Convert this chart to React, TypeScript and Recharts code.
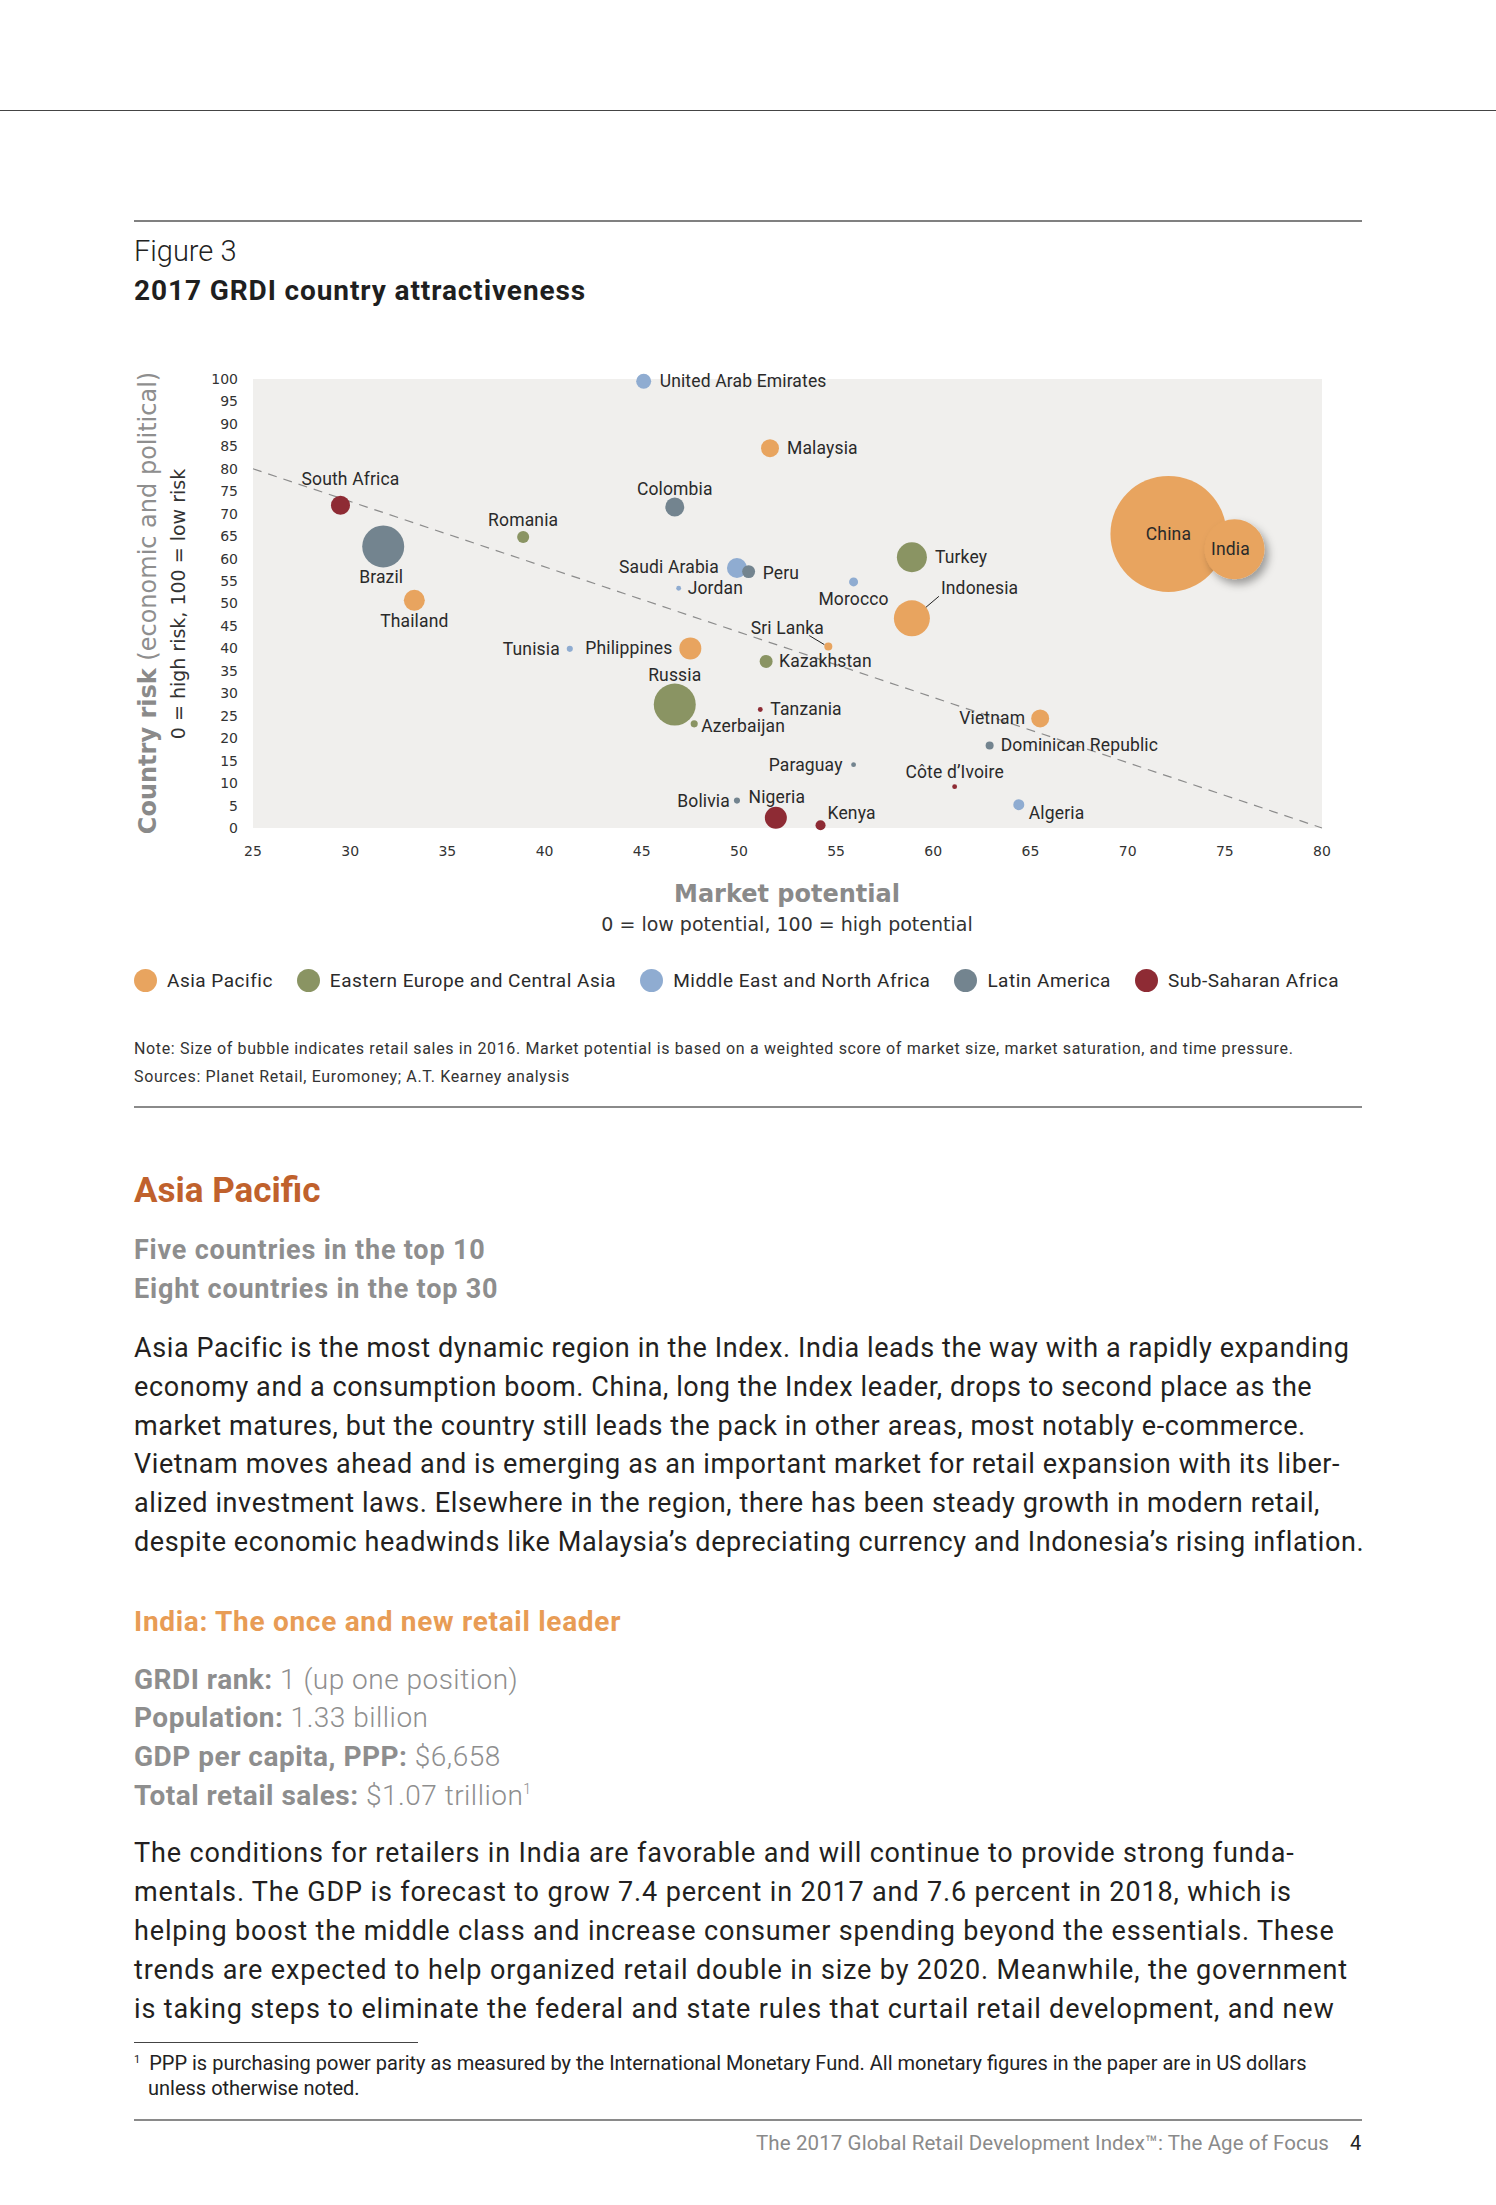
import React from 'react';
import { ScatterChart, Scatter, XAxis, YAxis, ZAxis, CartesianGrid, ReferenceLine } from 'recharts';

// ---------- DATA ----------
const regions = [
  'Asia Pacific',
  'Eastern Europe and Central Asia',
  'Middle East and North Africa',
  'Latin America',
  'Sub-Saharan Africa',
];
const regionColors = ['#E8A45F', '#8A9463', '#8FACD1', '#73848F', '#8E2B34'];

// x = market potential, y = country risk, z = retail sales 2016 (US$ billion)
const asiaPacific = [
  { name: 'China', x: 72.1, y: 65.5, z: 4000 },
  { name: 'India', x: 75.5, y: 62.1, z: 1070 },
  { name: 'Indonesia', x: 58.9, y: 46.7, z: 385 },
  { name: 'Philippines', x: 47.5, y: 40.0, z: 144 },
  { name: 'Thailand', x: 33.3, y: 50.7, z: 131 },
  { name: 'Malaysia', x: 51.6, y: 84.6, z: 96 },
  { name: 'Vietnam', x: 65.5, y: 24.4, z: 96 },
  { name: 'Sri Lanka', x: 54.6, y: 40.4, z: 19 },
];
const easternEurope = [
  { name: 'Russia', x: 46.7, y: 27.5, z: 524 },
  { name: 'Turkey', x: 58.9, y: 60.3, z: 268 },
  { name: 'Romania', x: 38.9, y: 64.8, z: 43 },
  { name: 'Kazakhstan', x: 51.4, y: 37.1, z: 50 },
  { name: 'Azerbaijan', x: 47.7, y: 23.2, z: 15 },
];
const middleEast = [
  { name: 'United Arab Emirates', x: 45.1, y: 99.5, z: 67 },
  { name: 'Saudi Arabia', x: 49.9, y: 57.9, z: 119 },
  { name: 'Jordan', x: 46.9, y: 53.4, z: 7 },
  { name: 'Morocco', x: 55.9, y: 54.8, z: 24 },
  { name: 'Tunisia', x: 41.3, y: 39.9, z: 11 },
  { name: 'Algeria', x: 64.4, y: 5.2, z: 36 },
];
const latinAmerica = [
  { name: 'Brazil', x: 31.7, y: 62.7, z: 524 },
  { name: 'Colombia', x: 46.7, y: 71.5, z: 107 },
  { name: 'Peru', x: 50.5, y: 57.1, z: 50 },
  { name: 'Dominican Republic', x: 62.9, y: 18.4, z: 19 },
  { name: 'Paraguay', x: 55.9, y: 14.1, z: 7 },
  { name: 'Bolivia', x: 49.9, y: 6.1, z: 11 },
];
const subSaharan = [
  { name: 'South Africa', x: 29.5, y: 71.9, z: 107 },
  { name: 'Nigeria', x: 51.9, y: 2.3, z: 144 },
  { name: 'Kenya', x: 54.2, y: 0.6, z: 30 },
  { name: 'Tanzania', x: 51.1, y: 26.4, z: 7 },
  { name: 'Côte d’Ivoire', x: 61.1, y: 9.2, z: 7 },
];
const seriesData = [asiaPacific, easternEurope, middleEast, latinAmerica, subSaharan];

const xTicks = [25, 30, 35, 40, 45, 50, 55, 60, 65, 70, 75, 80];
const yTicks = [0, 5, 10, 15, 20, 25, 30, 35, 40, 45, 50, 55, 60, 65, 70, 75, 80, 85, 90, 95, 100];
const trendLine = [{ x: 25, y: 80 }, { x: 80, y: 0 }];
const zDomain = [0, 4000];

// ---------- LABEL PLACEMENT (presentation) ----------
type Place = { dx: number; dy: number; anchor: 'start' | 'middle' | 'end'; leader?: number[] };
const labelPlacement: Record<string, Place> = {
  'United Arab Emirates': { dx: 16, dy: 0, anchor: 'start' },
  Malaysia: { dx: 17, dy: 0, anchor: 'start' },
  'South Africa': { dx: 10, dy: -26, anchor: 'middle' },
  Colombia: { dx: 0, dy: -18, anchor: 'middle' },
  Romania: { dx: 0, dy: -17, anchor: 'middle' },
  Brazil: { dx: -2, dy: 31, anchor: 'middle' },
  Thailand: { dx: 0, dy: 21, anchor: 'middle' },
  'Saudi Arabia': { dx: -18, dy: -1, anchor: 'end' },
  Peru: { dx: 14, dy: 1, anchor: 'start' },
  Jordan: { dx: 9, dy: 0, anchor: 'start' },
  Morocco: { dx: 0, dy: 17, anchor: 'middle' },
  Turkey: { dx: 23, dy: 0, anchor: 'start' },
  Indonesia: { dx: 29, dy: -30, anchor: 'start', leader: [14, -11, 27, -22] },
  China: { dx: 0, dy: 0, anchor: 'middle' },
  India: { dx: -4, dy: 0, anchor: 'middle' },
  'Sri Lanka': { dx: -41, dy: -19, anchor: 'middle', leader: [-19, -11, -4, -2] },
  Kazakhstan: { dx: 13, dy: 0, anchor: 'start' },
  Tunisia: { dx: -10, dy: 0, anchor: 'end' },
  Philippines: { dx: -18, dy: 0, anchor: 'end' },
  Russia: { dx: 0, dy: -30, anchor: 'middle' },
  Azerbaijan: { dx: 7, dy: 2, anchor: 'start' },
  Tanzania: { dx: 10, dy: 0, anchor: 'start' },
  Vietnam: { dx: -15, dy: 0, anchor: 'end' },
  'Dominican Republic': { dx: 11, dy: 0, anchor: 'start' },
  Paraguay: { dx: -11, dy: 0, anchor: 'end' },
  'Côte d’Ivoire': { dx: 0, dy: -15, anchor: 'middle' },
  Bolivia: { dx: -7, dy: 0, anchor: 'end' },
  Nigeria: { dx: 1, dy: -21, anchor: 'middle' },
  Kenya: { dx: 7, dy: -12, anchor: 'start' },
  Algeria: { dx: 10, dy: 8, anchor: 'start' },
};

const FONT = 'Roboto, "Liberation Sans", Arial, sans-serif';
const GEO = '"DejaVu Sans", Lato, sans-serif';

const makeShape = (color: string) => (props: any) => {
  const { cx, cy, payload } = props;
  if (cx == null || cy == null) return null;
  const r = props.width ? props.width / 2 : Math.sqrt((props.size || 64) / Math.PI);
  const p = labelPlacement[payload.name] || { dx: r + 6, dy: 0, anchor: 'start' };
  const shadow = payload.name === 'India';
  return (
    <g>
      {shadow && (
        <defs>
          <filter id="bubbleShadow" x="-50%" y="-50%" width="200%" height="200%">
            <feDropShadow dx="4" dy="5" stdDeviation="4" floodColor="#000" floodOpacity="0.35" />
          </filter>
        </defs>
      )}
      <circle cx={cx} cy={cy} r={r} fill={color} filter={shadow ? 'url(#bubbleShadow)' : undefined} />
      {p.leader && (
        <line
          x1={cx + p.leader[0]}
          y1={cy + p.leader[1]}
          x2={cx + p.leader[2]}
          y2={cy + p.leader[3]}
          stroke="#222"
          strokeWidth={1}
        />
      )}
      <text
        x={cx + p.dx}
        y={cy + p.dy}
        textAnchor={p.anchor}
        dominantBaseline="central"
        fontFamily={FONT}
        fontSize={17.5}
        letterSpacing={0.15}
        fill="#2a2a2a"
      >
        {payload.name}
      </text>
    </g>
  );
};

// ---------- LAYOUT HELPERS ----------
const Txt = ({ x, y, size, children, style, lh }: any) => {
  const lineH = lh || Math.round(size * 1.25);
  return (
    <div
      style={{
        position: 'absolute',
        left: x,
        top: y - lineH / 2,
        fontSize: size,
        lineHeight: `${lineH}px`,
        whiteSpace: 'nowrap',
        fontFamily: FONT,
        color: '#231f20',
        ...style,
      }}
    >
      {children}
    </div>
  );
};

const Rule = ({ x, y, w, h, color }: any) => (
  <div style={{ position: 'absolute', left: x, top: y - h / 2, width: w, height: h, background: color }} />
);

const para1 = [
  'Asia Pacific is the most dynamic region in the Index. India leads the way with a rapidly expanding',
  'economy and a consumption boom. China, long the Index leader, drops to second place as the',
  'market matures, but the country still leads the pack in other areas, most notably e-commerce.',
  'Vietnam moves ahead and is emerging as an important market for retail expansion with its liber-',
  'alized investment laws. Elsewhere in the region, there has been steady growth in modern retail,',
  'despite economic headwinds like Malaysia’s depreciating currency and Indonesia’s rising inflation.',
];
const para2 = [
  'The conditions for retailers in India are favorable and will continue to provide strong funda-',
  'mentals. The GDP is forecast to grow 7.4 percent in 2017 and 7.6 percent in 2018, which is',
  'helping boost the middle class and increase consumer spending beyond the essentials. These',
  'trends are expected to help organized retail double in size by 2020. Meanwhile, the government',
  'is taking steps to eliminate the federal and state rules that curtail retail development, and new',
];
const stats = [
  ['GRDI rank:', ' 1 (up one position)'],
  ['Population:', ' 1.33 billion'],
  ['GDP per capita, PPP:', ' $6,658'],
  ['Total retail sales:', ' $1.07 trillion'],
];

export default function App() {
  return (
    <div
      style={{
        position: 'absolute',
        left: 0,
        top: 0,
        width: 1496,
        height: 2205,
        background: '#fff',
        overflow: 'hidden',
        fontFamily: FONT,
      }}
    >
      <Rule x={0} y={110} w={1496} h={1} color="#444" />
      <Rule x={134} y={221} w={1228} h={2} color="#808080" />
      <Txt x={134} y={251} size={29} style={{ fontWeight: 300, color: '#222' }}>Figure 3</Txt>
      <Txt x={134} y={290} size={28} style={{ fontWeight: 700, color: '#1f1f1f', letterSpacing: 0.9 }}>
        2017 GRDI country attractiveness
      </Txt>

      {/* Y axis title */}
      <div
        style={{
          position: 'absolute',
          left: 148,
          top: 603,
          transform: 'translate(-50%, -50%) rotate(-90deg)',
          whiteSpace: 'nowrap',
          fontFamily: GEO,
          fontSize: 24,
          color: '#8a8a8a',
          lineHeight: '28px',
        }}
      >
        <span style={{ fontWeight: 700 }}>Country risk</span>
        <span style={{ fontWeight: 400, color: '#8e8e8e' }}> (economic and political)</span>
      </div>
      <div
        style={{
          position: 'absolute',
          left: 178,
          top: 604,
          transform: 'translate(-50%, -50%) rotate(-90deg)',
          whiteSpace: 'nowrap',
          fontFamily: GEO,
          fontSize: 19,
          color: '#333',
          lineHeight: '22px',
        }}
      >
        0 = high risk, 100 = low risk
      </div>

      <div style={{ position: 'absolute', left: 0, top: 330 }}>
        <ScatterChart width={1496} height={560} margin={{ top: 49, right: 174, bottom: 22, left: 193 }}>
          <CartesianGrid fill="#F0EFED" horizontal={false} vertical={false} />
          <XAxis
            type="number"
            dataKey="x"
            domain={[25, 80]}
            ticks={xTicks}
            interval={0}
            axisLine={false}
            tickLine={false}
            tickMargin={12}
            height={40}
            tick={{ fontSize: 14, fill: '#333', fontFamily: GEO }}
          />
          <YAxis
            type="number"
            dataKey="y"
            domain={[0, 100]}
            ticks={yTicks}
            interval={0}
            axisLine={false}
            tickLine={false}
            tickMargin={9}
            width={60}
            tick={{ fontSize: 14, fill: '#333', fontFamily: GEO }}
          />
          <ZAxis type="number" dataKey="z" domain={zDomain} range={[0, Math.PI * 58 * 58]} scale="linear" />
          <ReferenceLine
            segment={trendLine}
            stroke="#8c8c8c"
            strokeWidth={1.2}
            strokeDasharray="9 7"
            ifOverflow="visible"
          />
          {seriesData.map((d, i) => (
            <Scatter
              key={regions[i]}
              name={regions[i]}
              data={d}
              fill={regionColors[i]}
              shape={makeShape(regionColors[i])}
              isAnimationActive={false}
            />
          ))}
        </ScatterChart>
      </div>

      {/* X axis title */}
      <div
        style={{
          position: 'absolute',
          left: 787,
          top: 894,
          transform: 'translate(-50%, -50%)',
          whiteSpace: 'nowrap',
          fontFamily: GEO,
          fontWeight: 700,
          fontSize: 24,
          color: '#8a8a8a',
        }}
      >
        Market potential
      </div>
      <div
        style={{
          position: 'absolute',
          left: 787,
          top: 924,
          transform: 'translate(-50%, -50%)',
          whiteSpace: 'nowrap',
          fontFamily: GEO,
          fontSize: 19,
          color: '#333',
        }}
      >
        0 = low potential, 100 = high potential
      </div>

      {/* Legend */}
      <div
        style={{
          position: 'absolute',
          left: 134,
          top: 968,
          height: 24,
          display: 'flex',
          alignItems: 'center',
          gap: 24,
          fontFamily: FONT,
          fontSize: 19,
          letterSpacing: 0.5,
          color: '#2a2a2a',
          whiteSpace: 'nowrap',
        }}
      >
        {regions.map((r, i) => (
          <div key={r} style={{ display: 'flex', alignItems: 'center' }}>
            <span
              style={{
                width: 23,
                height: 23,
                borderRadius: 12,
                background: regionColors[i],
                display: 'inline-block',
                marginRight: 10,
              }}
            />
            <span>{r}</span>
          </div>
        ))}
      </div>

      <Txt x={134} y={1049} size={16} style={{ color: '#333', letterSpacing: 0.65 }}>
        Note: Size of bubble indicates retail sales in 2016. Market potential is based on a weighted score of market size, market saturation, and time pressure.
      </Txt>
      <Txt x={134} y={1077} size={16} style={{ color: '#333', letterSpacing: 0.65 }}>
        Sources: Planet Retail, Euromoney; A.T. Kearney analysis
      </Txt>
      <Rule x={134} y={1107} w={1228} h={2} color="#8a8a8a" />

      <Txt x={134} y={1191} size={35} style={{ fontWeight: 700, color: '#C0612C' }}>
        Asia Pacific
      </Txt>
      <Txt x={134} y={1250} size={27} style={{ fontWeight: 700, color: '#8e8e8e', letterSpacing: 0.8 }}>
        Five countries in the top 10
      </Txt>
      <Txt x={134} y={1289} size={27} style={{ fontWeight: 700, color: '#8e8e8e', letterSpacing: 0.8 }}>
        Eight countries in the top 30
      </Txt>

      {para1.map((l, i) => (
        <Txt key={i} x={134} y={1348 + i * 38.8} size={27} style={{ letterSpacing: 0.6 }}>
          {l}
        </Txt>
      ))}

      <Txt x={134} y={1621} size={28} style={{ fontWeight: 700, color: '#E89C55', letterSpacing: 0.7 }}>
        India: The once and new retail leader
      </Txt>
      {stats.map((s, i) => (
        <Txt key={i} x={134} y={1679 + i * 38.7} size={28} style={{ color: '#8e8e8e', letterSpacing: 0.5 }}>
          <span style={{ fontWeight: 700 }}>{s[0]}</span>
          <span style={{ fontWeight: 300 }}>{s[1]}</span>
          {i === 3 && (
            <span style={{ fontSize: 14, fontWeight: 300, position: 'relative', top: -11, lineHeight: 0 }}>1</span>
          )}
        </Txt>
      ))}

      {para2.map((l, i) => (
        <Txt key={i} x={134} y={1853 + i * 39} size={27} style={{ letterSpacing: 0.85 }}>
          {l}
        </Txt>
      ))}

      <Rule x={134} y={2042} w={284} h={1} color="#444" />
      <Txt x={134} y={2063} size={20} style={{ color: '#222' }}>
        <span style={{ fontSize: 11, position: 'relative', top: -7, lineHeight: 0 }}>1</span>
        <span style={{ marginLeft: 9 }}>
          PPP is purchasing power parity as measured by the International Monetary Fund. All monetary figures in the paper are in US dollars
        </span>
      </Txt>
      <Txt x={148} y={2088} size={20} style={{ color: '#222' }}>
        unless otherwise noted.
      </Txt>
      <Rule x={134} y={2120} w={1228} h={2} color="#8a8a8a" />
      <div
        style={{
          position: 'absolute',
          right: 1496 - 1329,
          top: 2143 - 13,
          lineHeight: '26px',
          fontSize: 20.5,
          letterSpacing: 0.1,
          color: '#8a8a8a',
          whiteSpace: 'nowrap',
          fontFamily: FONT,
        }}
      >
        The 2017 Global Retail Development Index™: The Age of Focus
      </div>
      <Txt x={1350} y={2143} size={20} style={{ color: '#222' }}>
        4
      </Txt>
    </div>
  );
}
